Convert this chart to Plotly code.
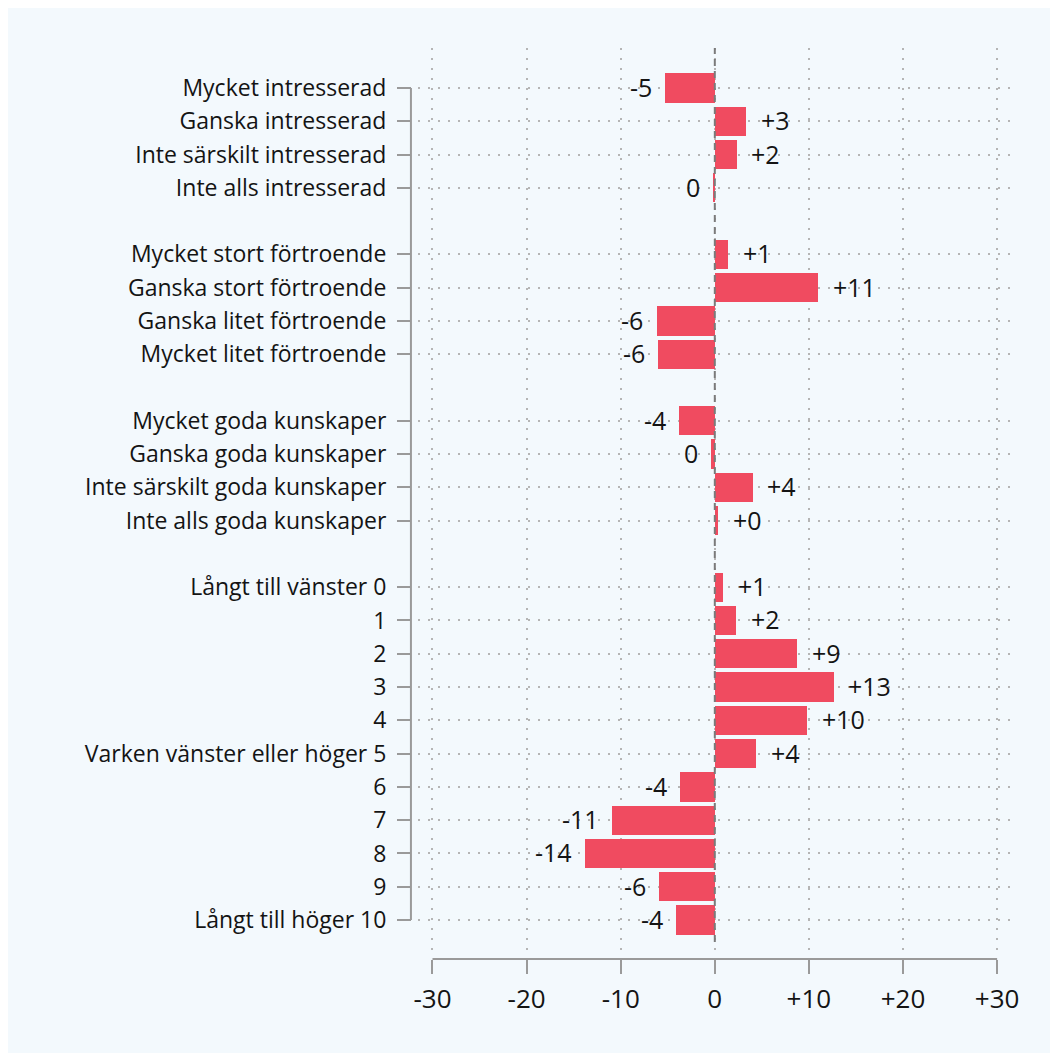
import plotly.graph_objects as go

# ---- data ----
interest_labels = ["Mycket intresserad", "Ganska intresserad", "Inte särskilt intresserad", "Inte alls intresserad"]
interest_values = [-5.3, 3.3, 2.3, -0.2]

trust_labels = ["Mycket stort förtroende", "Ganska stort förtroende", "Ganska litet förtroende", "Mycket litet förtroende"]
trust_values = [1.4, 11.0, -6.2, -6.0]

knowledge_labels = ["Mycket goda kunskaper", "Ganska goda kunskaper", "Inte särskilt goda kunskaper", "Inte alls goda kunskaper"]
knowledge_values = [-3.8, -0.4, 4.0, 0.3]

scale_labels = ["Långt till vänster 0", "1", "2", "3", "4", "Varken vänster eller höger 5",
                "6", "7", "8", "9", "Långt till höger 10"]
scale_values = [0.9, 2.2, 8.7, 12.6, 9.8, 4.4, -3.7, -10.9, -13.8, -5.9, -4.1]

x_tickvals = [-30, -20, -10, 0, 10, 20, 30]
x_ticktext = ["-30", "-20", "-10", "0", "+10", "+20", "+30"]

groups = [(interest_labels, interest_values), (trust_labels, trust_values),
          (knowledge_labels, knowledge_values), (scale_labels, scale_values)]

# ---- build positions (one blank row between groups) ----
labels, values, ypos = [], [], []
pos = 0
for gi, (ls, vs) in enumerate(groups):
    for l, v in zip(ls, vs):
        labels.append(l)
        values.append(v)
        ypos.append(pos)
        pos += 1
    pos += 1
last_row = ypos[-1]

def fmt(v):
    r = int(round(v))
    if r > 0:
        return f"+{r}"
    if r < 0:
        return f"{r}"
    return "+0" if v > 0 else "0"

W, H = 1050, 1045
FONT = "Open Sans"
TXT = "#141414"
BAR = "#f04b60"
AX = "#9a9a9a"
BG = "#f3f9fd"

# pixel layout (figure coordinates)
px_left, px_right = 409, 1011
px_top, px_bottom = 40, 943
x0_px, x_scale = 708.2, 9.483
row0_px, row_step = 80, 33.28
yaxis_px = 402
xaxis_px = 951

x_range = [(px_left - x0_px) / x_scale, (px_right - x0_px) / x_scale]
y_range = [(px_bottom - row0_px) / row_step, (px_top - row0_px) / row_step]

fig = go.Figure()
fig.add_trace(go.Bar(
    x=values, y=ypos, orientation="h", width=0.88,
    marker=dict(color=BAR, line=dict(width=0)),
    hoverinfo="skip", showlegend=False,
))

annotations = []
for v, y in zip(values, ypos):
    neg = v < 0
    annotations.append(dict(
        x=v, y=y, xref="x", yref="y", text=fmt(v), showarrow=False,
        xanchor="right" if neg else "left", yanchor="middle",
        xshift=-11 if neg else 13, yshift=1,
        font=dict(family=FONT, size=25, color=TXT),
    ))

shapes = [
    # y axis line
    dict(type="line", xref="paper", yref="y", x0=yaxis_px / W, x1=yaxis_px / W, y0=ypos[0], y1=last_row,
         line=dict(color=AX, width=2)),
    # x axis line
    dict(type="line", xref="x", yref="paper", x0=-30, x1=30, y0=1 - xaxis_px / H, y1=1 - xaxis_px / H,
         line=dict(color=AX, width=2)),
    # zero line
    dict(type="line", xref="x", yref="paper", x0=0, x1=0, y0=1 - 934 / H, y1=1 - px_top / H,
         line=dict(color="#7a7a7a", width=2, dash="7px,5px"), layer="above"),
]

fig.update_layout(
    width=W, height=H, autosize=False,
    margin=dict(l=0, r=0, t=0, b=0),
    paper_bgcolor=BG, plot_bgcolor="rgba(0,0,0,0)",
    bargap=0,
    xaxis=dict(
        domain=[px_left / W, px_right / W], range=x_range,
        anchor="free", position=1 - xaxis_px / H,
        tickvals=x_tickvals, ticktext=x_ticktext,
        ticks="outside", ticklen=14, tickwidth=2, tickcolor=AX,
        ticklabelstandoff=3,
        showline=False, zeroline=False,
        showgrid=True, gridcolor="#b5b5b5", gridwidth=2, griddash="2px,8px",
        tickfont=dict(family=FONT, size=26, color=TXT),
        fixedrange=True,
    ),
    yaxis=dict(
        domain=[1 - px_bottom / H, 1 - px_top / H], range=y_range,
        anchor="free", position=yaxis_px / W,
        tickvals=ypos, ticktext=labels,
        ticks="outside", ticklen=14, tickwidth=2, tickcolor=AX,
        ticklabelstandoff=6,
        showline=False, zeroline=False,
        showgrid=True, gridcolor="#b5b5b5", gridwidth=2, griddash="2px,8px",
        tickfont=dict(family=FONT, size=23, color=TXT),
        fixedrange=True,
    ),
    shapes=shapes,
    annotations=annotations,
    font=dict(family=FONT, color=TXT),
)

fig.write_html("out.html")
